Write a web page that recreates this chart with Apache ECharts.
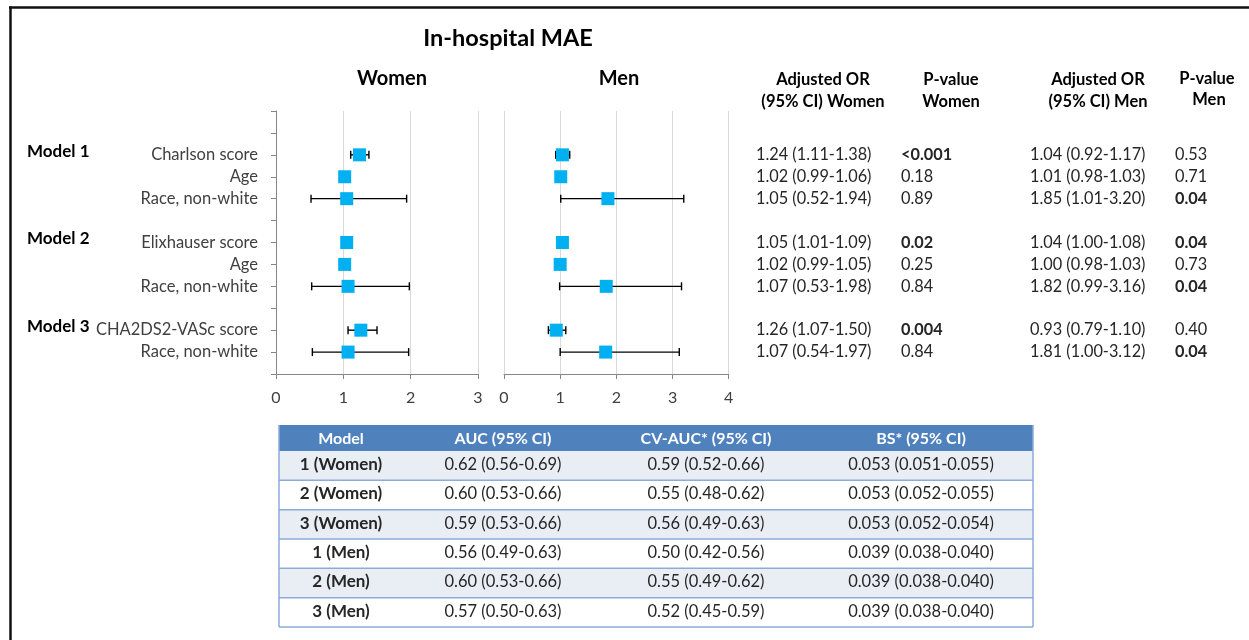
<!DOCTYPE html>
<html><head><meta charset="utf-8">
<script src="https://cdn.jsdelivr.net/npm/echarts@6/dist/echarts.min.js"></script>
<style>html,body{margin:0;padding:0;background:#fff}#c{width:1249px;height:640px}</style>
</head><body><div id="c"></div>
<script>
// ---------------- data ----------------
const chartTitle = 'In-hospital MAE';
const panelTitles = ['Women', 'Men'];
const models = ['Model 1', 'Model 2', 'Model 3'];
const variables = ['Charlson score', 'Age', 'Race, non-white', 'Elixhauser score', 'Age', 'Race, non-white', 'CHA2DS2-VASc score', 'Race, non-white'];
const modelOf = [0, 0, 0, 1, 1, 1, 2, 2];

const womenOR = [1.24, 1.02, 1.05, 1.05, 1.02, 1.07, 1.26, 1.07];
const womenLo = [1.11, 0.99, 0.52, 1.01, 0.99, 0.53, 1.07, 0.54];
const womenHi = [1.38, 1.06, 1.94, 1.09, 1.05, 1.98, 1.50, 1.97];
const womenP  = ['<0.001', '0.18', '0.89', '0.02', '0.25', '0.84', '0.004', '0.84'];

const menOR = [1.04, 1.01, 1.85, 1.04, 1.00, 1.82, 0.93, 1.81];
const menLo = [0.92, 0.98, 1.01, 1.00, 0.98, 0.99, 0.79, 1.00];
const menHi = [1.17, 1.03, 3.20, 1.08, 1.03, 3.16, 1.10, 3.12];
const menP  = ['0.53', '0.71', '0.04', '0.04', '0.73', '0.04', '0.40', '0.04'];

const womenAxisMax = 3;
const menAxisMax = 4;

const columnHeaders = [['Adjusted OR', '(95% CI) Women'], ['P-value', 'Women'], ['Adjusted OR', '(95% CI) Men'], ['P-value', 'Men']];

const tableHeader = ['Model', 'AUC (95% CI)', 'CV-AUC* (95% CI)', 'BS* (95% CI)'];
const tableModel = ['1 (Women)', '2 (Women)', '3 (Women)', '1 (Men)', '2 (Men)', '3 (Men)'];
const tableAUC = ['0.62 (0.56-0.69)', '0.60 (0.53-0.66)', '0.59 (0.53-0.66)', '0.56 (0.49-0.63)', '0.60 (0.53-0.66)', '0.57 (0.50-0.63)'];
const tableCVAUC = ['0.59 (0.52-0.66)', '0.55 (0.48-0.62)', '0.56 (0.49-0.63)', '0.50 (0.42-0.56)', '0.55 (0.49-0.62)', '0.52 (0.45-0.59)'];
const tableBS = ['0.053 (0.051-0.055)', '0.053 (0.052-0.055)', '0.053 (0.052-0.054)', '0.039 (0.038-0.040)', '0.039 (0.038-0.040)', '0.039 (0.038-0.040)'];

// ---------------- build ----------------
const FONT = 'Lato';
const cats = [''];
const rowIndex = [];
models.forEach((m, mi) => {
  cats.push('');
  variables.forEach((v, i) => { if (modelOf[i] === mi) { rowIndex.push(cats.length); cats.push(v); } });
});
cats.push('');

function errItem(params, api) {
  const y = api.value(2);
  const p1 = api.coord([api.value(0), y]);
  const p2 = api.coord([api.value(1), y]);
  const h = 4;
  const style = { stroke: '#000', lineWidth: 1.4 };
  return { type: 'group', children: [
    { type: 'line', shape: { x1: p1[0], y1: p1[1], x2: p2[0], y2: p2[1] }, style },
    { type: 'line', shape: { x1: p1[0], y1: p1[1] - h, x2: p1[0], y2: p1[1] + h }, style },
    { type: 'line', shape: { x1: p2[0], y1: p2[1] - h, x2: p2[0], y2: p2[1] + h }, style }
  ]};
}

function xAxisCfg(gi, max) {
  return {
    gridIndex: gi, type: 'value', min: 0, max: max, interval: 1,
    axisLine: { show: true, lineStyle: { color: '#868686', width: 1 } },
    axisTick: { show: true, length: 5, lineStyle: { color: '#868686' } },
    axisLabel: { color: '#404040', fontSize: 16, fontFamily: FONT, margin: 16 },
    splitLine: { show: true, lineStyle: { color: '#D9D9D9', width: 1 } }
  };
}

const chart = echarts.init(document.getElementById('c'), null, { renderer: 'canvas' });
const option = {
  animation: false,
  backgroundColor: '#fff',
  grid: [
    { left: 276, top: 111, width: 202, height: 263, outerBoundsMode: 'none' },
    { left: 504, top: 111, width: 224.7, height: 263, outerBoundsMode: 'none' }
  ],
  xAxis: [xAxisCfg(0, womenAxisMax), xAxisCfg(1, menAxisMax)],
  yAxis: [
    { gridIndex: 0, type: 'category', data: cats, inverse: true, boundaryGap: false,
      axisLine: { show: true, lineStyle: { color: '#868686' } },
      axisTick: { show: true, length: 5, interval: 0, lineStyle: { color: '#868686' } },
      axisLabel: { interval: 0, color: '#404040', fontSize: 16.5, fontFamily: FONT, margin: 18 },
      splitLine: { show: false } },
    { gridIndex: 1, type: 'category', data: cats, inverse: true, boundaryGap: false, show: false }
  ],
  series: [
    { type: 'custom', xAxisIndex: 0, yAxisIndex: 0, renderItem: errItem, encode: { x: [0, 1], y: 2 },
      data: womenLo.map((v, i) => [v, womenHi[i], rowIndex[i]]), z: 2 },
    { type: 'custom', xAxisIndex: 1, yAxisIndex: 1, renderItem: errItem, encode: { x: [0, 1], y: 2 },
      data: menLo.map((v, i) => [v, menHi[i], rowIndex[i]]), z: 2 },
    { type: 'scatter', xAxisIndex: 0, yAxisIndex: 0, symbol: 'rect', symbolSize: 13,
      itemStyle: { color: '#00B0F0', opacity: 1 }, data: womenOR.map((v, i) => [v, rowIndex[i]]), z: 3 },
    { type: 'scatter', xAxisIndex: 1, yAxisIndex: 1, symbol: 'rect', symbolSize: 13,
      itemStyle: { color: '#00B0F0', opacity: 1 }, data: menOR.map((v, i) => [v, rowIndex[i]]), z: 3 }
  ]
};
chart.setOption(option);

// ---------------- graphic overlay ----------------
const g = [];
const txt = (text, x, y, font, fill, align, z) => g.push({ type: 'text', z: z || 10, silent: true,
  style: { text: text, x: x, y: y, font: font, fill: fill, align: align || 'left', verticalAlign: 'middle' } });

// frame
g.push({ type: 'line', shape: { x1: 9, y1: 7.5, x2: 1249, y2: 7.5 }, style: { stroke: '#111', lineWidth: 2.5 } });
g.push({ type: 'line', shape: { x1: 10.5, y1: 6.5, x2: 10.5, y2: 640 }, style: { stroke: '#111', lineWidth: 2.5 } });

txt(chartTitle, 508, 38, 'bold 23.5px ' + FONT, '#000', 'center');
txt(panelTitles[0], 392, 79, 'bold 20px ' + FONT, '#000', 'center');
txt(panelTitles[1], 619, 79, 'bold 20px ' + FONT, '#000', 'center');

const headCx = [823, 951, 1098, 1207];
columnHeaders.forEach((h, i) => {
  txt(h[0], headCx[i], i === 3 ? 79 : 80, 'bold 16.5px ' + FONT, '#000', 'center');
  txt(h[1], headCx[i] + (i === 3 ? 2 : 0), i === 3 ? 100 : 102, 'bold 16.5px ' + FONT, '#000', 'center');
});

const pNum = s => parseFloat(String(s).replace('<', ''));
const fmtOR = (o, l, h) => o.toFixed(2) + ' (' + l.toFixed(2) + '-' + h.toFixed(2) + ')';
const colX = [756, 901, 1030, 1175];
const DATAFONT = '16.3px ' + FONT;
variables.forEach((v, i) => {
  const y = chart.convertToPixel({ yAxisIndex: 0 }, rowIndex[i]);
  txt(fmtOR(womenOR[i], womenLo[i], womenHi[i]), colX[0], y, DATAFONT, '#262626');
  txt(womenP[i], colX[1], y, (pNum(womenP[i]) < 0.05 ? 'bold ' : '') + DATAFONT, '#262626');
  txt(fmtOR(menOR[i], menLo[i], menHi[i]), colX[2], y, DATAFONT, '#262626');
  txt(menP[i], colX[3], y, (pNum(menP[i]) < 0.05 ? 'bold ' : '') + DATAFONT, '#262626');
});
models.forEach((m, mi) => {
  const first = modelOf.indexOf(mi);
  const y = chart.convertToPixel({ yAxisIndex: 0 }, rowIndex[first]);
  txt(m, 27, y - 3.5, 'bold 17px ' + FONT, '#000', 'left');
});

// table
const tX = 279, colW = [124, 200, 206, 224], tTop = 425, headH = 26, rowH = 29.33;
const tW = colW.reduce((a, b) => a + b, 0);
g.push({ type: 'rect', shape: { x: tX, y: tTop, width: tW, height: headH }, style: { fill: '#4F81BD' } });
let cx = tX;
const centers = colW.map(w => { const c = cx + w / 2; cx += w; return c; });
tableHeader.forEach((h, j) => txt(h, centers[j], tTop + headH / 2 + 0.5, 'bold 16px ' + FONT, '#fff', 'center', 12));
tableModel.forEach((m, i) => {
  const y0 = tTop + headH + i * rowH;
  g.push({ type: 'rect', shape: { x: tX, y: y0, width: tW, height: rowH }, style: { fill: i % 2 === 0 ? '#E9EDF4' : '#fff' } });
  g.push({ type: 'line', shape: { x1: tX, y1: y0 + rowH, x2: tX + tW, y2: y0 + rowH }, style: { stroke: '#8EAADB', lineWidth: 1.5 }, z: 11 });
  const yc = y0 + rowH / 2 - 1;
  txt(m, centers[0], yc, 'bold 17px ' + FONT, '#262626', 'center', 12);
  txt(tableAUC[i], centers[1], yc, '16.5px ' + FONT, '#262626', 'center', 12);
  txt(tableCVAUC[i], centers[2], yc, '16.5px ' + FONT, '#262626', 'center', 12);
  txt(tableBS[i], centers[3], yc, '16.5px ' + FONT, '#262626', 'center', 12);
});
const tBottom = tTop + headH + tableModel.length * rowH;
g.push({ type: 'line', shape: { x1: tX, y1: tTop, x2: tX, y2: tBottom }, style: { stroke: '#8EAADB', lineWidth: 1.5 }, z: 11 });
g.push({ type: 'line', shape: { x1: tX + tW, y1: tTop, x2: tX + tW, y2: tBottom }, style: { stroke: '#8EAADB', lineWidth: 1.5 }, z: 11 });

chart.setOption({ graphic: { elements: g } });
</script></body></html>
